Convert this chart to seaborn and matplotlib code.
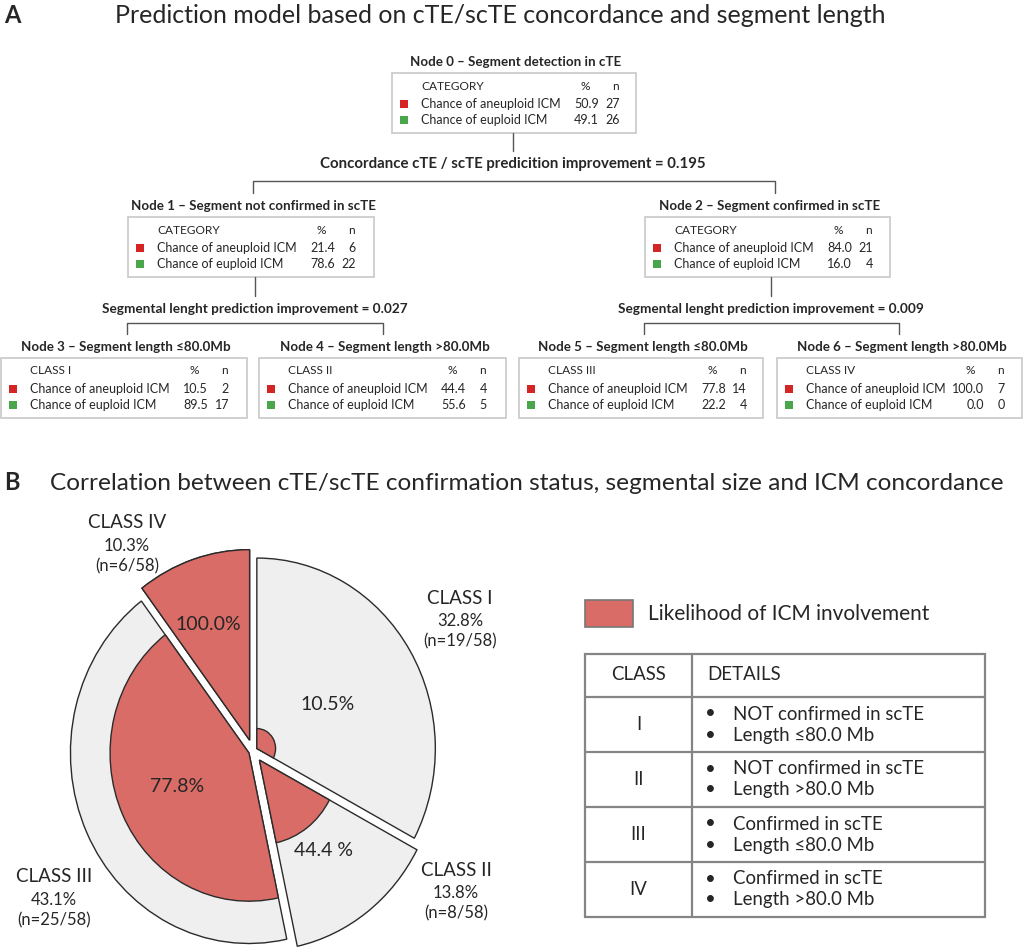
# -*- coding: utf-8 -*-
import matplotlib
matplotlib.use('Agg')
import matplotlib.pyplot as plt
from matplotlib.patches import Wedge, Rectangle
import seaborn as sns

sns.set_theme(style='white')
plt.rcParams['font.family'] = ['Lato', 'DejaVu Sans']

# ── Data: decision tree (panel A) ────────────────────────────────────────────
node_titles = [
    'Node 0 – Segment detection in cTE',
    'Node 1 – Segment not confirmed in scTE',
    'Node 2 – Segment confirmed in scTE',
    'Node 3 – Segment length ≤80.0Mb',
    'Node 4 – Segment length >80.0Mb',
    'Node 5 – Segment length ≤80.0Mb',
    'Node 6 – Segment length >80.0Mb',
]
node_headers = ['CATEGORY', 'CATEGORY', 'CATEGORY', 'CLASS I', 'CLASS II', 'CLASS III', 'CLASS IV']
row_labels = ['Chance of aneuploid ICM', 'Chance of euploid ICM']
aneuploid_pct = [50.9, 21.4, 84.0, 10.5, 44.4, 77.8, 100.0]
aneuploid_n = [27, 6, 21, 2, 4, 14, 7]
euploid_pct = [49.1, 78.6, 16.0, 89.5, 55.6, 22.2, 0.0]
euploid_n = [26, 22, 4, 17, 5, 4, 0]
split_texts = [
    'Concordance cTE / scTE predicition improvement = 0.195',
    'Segmental lenght prediction improvement = 0.027',
    'Segmental lenght prediction improvement = 0.009',
]

# ── Data: classes (panel B) ──────────────────────────────────────────────────
class_names = ['CLASS I', 'CLASS II', 'CLASS III', 'CLASS IV']
class_share = [32.8, 13.8, 43.1, 10.3]
class_n = [19, 8, 25, 6]
total_n = 58
icm_likelihood = [10.5, 44.4, 77.8, 100.0]
icm_labels = ['10.5%', '44.4 %', '77.8%', '100.0%']
table_class = ['I', 'II', 'III', 'IV']
table_confirm = ['NOT confirmed in scTE', 'NOT confirmed in scTE',
                 'Confirmed in scTE', 'Confirmed in scTE']
table_length = ['Length ≤80.0 Mb', 'Length >80.0 Mb', 'Length ≤80.0 Mb', 'Length >80.0 Mb']

# ── Layout (pixels from top-left) ────────────────────────────────────────────
W, H = 1024, 950
box_left = [392, 128, 645, 1, 259, 519, 777]
box_right = [636, 374, 890, 247, 506, 763, 1022]
box_top = [73, 217, 217, 358, 358, 358, 358]
BOX_H = 60
split_x = [513, 255, 771]
split_stem = [(133, 151), (277, 296), (277, 296)]
split_text_y = [164, 309, 309]
split_fs = [10.8, 9.8, 9.8]
bracket_y = [181, 323, 323]
bracket_x = [(253, 775), (127, 383), (644, 899)]
tick_bottom = [193, 334, 334]

RED_SQ = '#d42525'
GREEN_SQ = '#4aa64a'
PIE_RED = '#d96c66'
PIE_GREY = '#efefef'
EDGE = '#2b2b2b'
LINE = '#555555'

fig = plt.figure(figsize=(W / 100, H / 100), dpi=100)

# ── Pie axes (slightly taller than wide, like the reference) ─────────────────
cx, cy, rx, ry = 253, 751, 178.5, 190.5
lim = 1.3
ax_p = fig.add_axes([(cx - lim * rx) / W, (H - cy - lim * ry) / H,
                     2 * lim * rx / W, 2 * lim * ry / H])
wedges, _ = ax_p.pie(class_share, explode=[0.025, 0.06, 0.025, 0.06],
                     startangle=90, counterclock=False, colors=[PIE_GREY] * 4,
                     wedgeprops=dict(edgecolor=EDGE, linewidth=1.0))
for w, lik in zip(wedges, icm_likelihood):
    ax_p.add_patch(Wedge(w.center, lik / 100, w.theta1, w.theta2,
                         facecolor=PIE_RED, edgecolor=EDGE, linewidth=1.0))
ax_p.set_aspect('auto')
ax_p.set_xlim(-lim, lim)
ax_p.set_ylim(-lim, lim)
ax_p.axis('off')

# ── Main canvas axes in pixel coordinates ────────────────────────────────────
ax = fig.add_axes([0, 0, 1, 1])
ax.set_xlim(0, W)
ax.set_ylim(H, 0)
ax.patch.set_alpha(0)
ax.axis('off')

# Panel titles
ax.text(4, 23, 'A', fontsize=17, fontweight='bold', va='baseline')
ax.text(115, 23, 'Prediction model based on cTE/scTE concordance and segment length',
        fontsize=18, va='baseline')
ax.text(4, 490, 'B', fontsize=17, fontweight='bold', va='baseline')
ax.text(50, 490, 'Correlation between cTE/scTE confirmation status, segmental size and ICM concordance',
        fontsize=17.6, va='baseline')

# Tree nodes
for i in range(len(node_titles)):
    x0, x1, y0 = box_left[i], box_right[i], box_top[i]
    ax.text((x0 + x1) / 2 + 2, y0 - 11, node_titles[i], fontsize=9.6,
            fontweight='bold', ha='center', va='center')
    ax.add_patch(Rectangle((x0, y0), x1 - x0, BOX_H, facecolor='white',
                           edgecolor='#c8c8c8', linewidth=1.2))
    ax.text(x0 + 29, y0 + 13, node_headers[i], fontsize=8.6, va='center')
    ax.text(x0 + 193, y0 + 13, '%', fontsize=8.6, ha='center', va='center')
    ax.text(x0 + 223, y0 + 13, 'n', fontsize=8.6, ha='center', va='center')
    rows = [(aneuploid_pct[i], aneuploid_n[i], RED_SQ),
            (euploid_pct[i], euploid_n[i], GREEN_SQ)]
    for j, (pct, n, col) in enumerate(rows):
        ry_ = y0 + 31 + 16 * j
        ax.add_patch(Rectangle((x0 + 8, ry_ - 4), 8, 8, facecolor=col, edgecolor='none'))
        ax.text(x0 + 29, ry_, row_labels[j], fontsize=9, va='center')
        ax.text(x0 + 207, ry_, f'{pct:.1f}', fontsize=9, ha='right', va='center')
        ax.text(x0 + 228, ry_, f'{n}', fontsize=9, ha='right', va='center')

# Tree connectors
for k in range(len(split_texts)):
    ax.plot([split_x[k], split_x[k]], split_stem[k], color=LINE, lw=1)
    ax.text(split_x[k], split_text_y[k], split_texts[k], fontsize=split_fs[k],
            fontweight='bold', ha='center', va='center')
    xa, xb = bracket_x[k]
    ax.plot([xa, xa, xb, xb], [tick_bottom[k], bracket_y[k], bracket_y[k], tick_bottom[k]],
            color=LINE, lw=1)

# Pie labels
class_label_xy = [(460, 598), (456, 870), (54, 877), (127, 523)]
inner_label_xy = [(328, 705), (323, 850), (177, 786), (208, 625)]
for i in range(len(class_names)):
    lx, ly = class_label_xy[i]
    ax.text(lx, ly, class_names[i], fontsize=13.5, ha='center', va='center')
    ax.text(lx, ly + 23, f'{class_share[i]:.1f}%', fontsize=12, ha='center', va='center')
    ax.text(lx, ly + 43, f'(n={class_n[i]}/{total_n})', fontsize=12, ha='center', va='center')
    ix, iy = inner_label_xy[i]
    ax.text(ix, iy, icm_labels[i], fontsize=14, ha='center', va='center')

# Legend
ax.add_patch(Rectangle((585, 600), 48, 27, facecolor=PIE_RED, edgecolor='#777777', linewidth=1.2))
ax.text(648, 614, 'Likelihood of ICM involvement', fontsize=15, va='center')

# Class table
tx0, tdiv, tx1 = 585, 692, 985
t_lines = [654, 697, 752, 807, 862, 917]
TCOL = '#858585'
ax.add_patch(Rectangle((tx0, t_lines[0]), tx1 - tx0, t_lines[-1] - t_lines[0],
                       facecolor='white', edgecolor=TCOL, linewidth=1.6))
for yl in t_lines[1:-1]:
    ax.plot([tx0, tx1], [yl, yl], color=TCOL, lw=1.6)
ax.plot([tdiv, tdiv], [t_lines[0], t_lines[-1]], color=TCOL, lw=1.6)
ax.text((tx0 + tdiv) / 2, 675, 'CLASS', fontsize=13.4, ha='center', va='center')
ax.text(707, 675, 'DETAILS', fontsize=13.4, va='center')
for i in range(len(table_class)):
    yc = (t_lines[i + 1] + t_lines[i + 2]) / 2
    ax.text((tx0 + tdiv) / 2, yc, table_class[i], fontsize=13.4, ha='center', va='center')
    for dy, txt in [(-10.5, table_confirm[i]), (10.5, table_length[i])]:
        ax.text(710, yc + dy, '•', fontsize=13.4, ha='center', va='center')
        ax.text(733, yc + dy, txt, fontsize=13.4, va='center')

fig.savefig('out.png', dpi=100)
